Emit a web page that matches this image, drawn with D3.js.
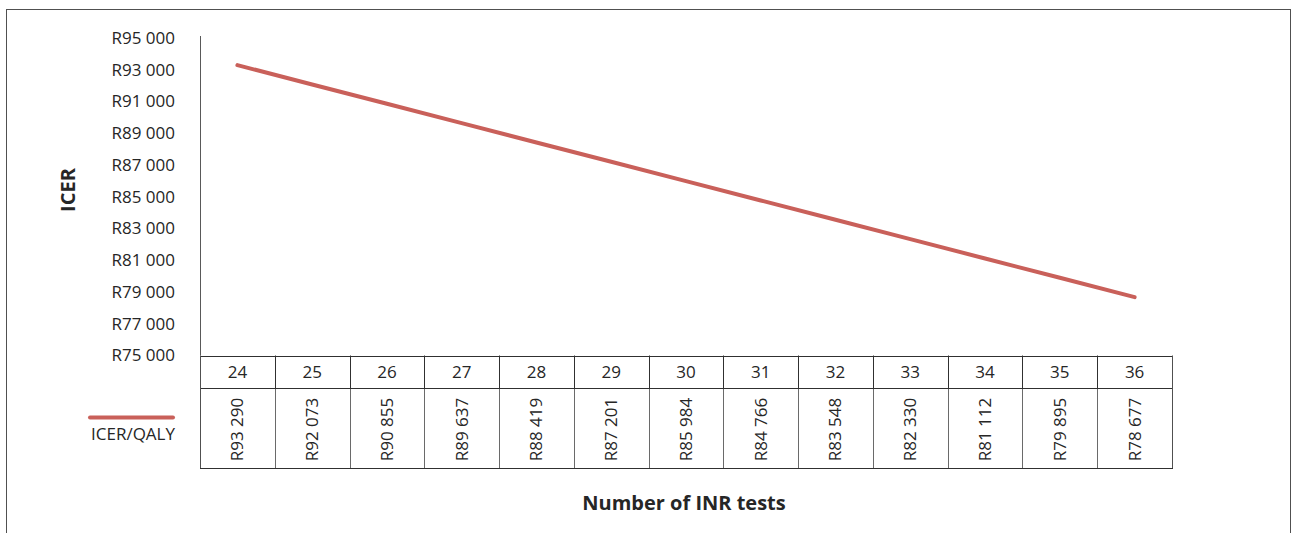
<!DOCTYPE html>
<html>
<head>
<meta charset="utf-8">
<script src="https://cdn.jsdelivr.net/npm/d3@7"></script>
<style>
  body { margin: 0; background: #fff; }
  svg { display: block; font-family: "Open Sans", "Noto Sans", sans-serif; }
</style>
</head>
<body>
<div id="chart"></div>
<script>
// data
var tests = [24, 25, 26, 27, 28, 29, 30, 31, 32, 33, 34, 35, 36];
var icerPerQaly = [93290, 92073, 90855, 89637, 88419, 87201, 85984, 84766, 83548, 82330, 81112, 79895, 78677];
var yTicks = [75000, 77000, 79000, 81000, 83000, 85000, 87000, 89000, 91000, 93000, 95000];
var seriesName = "ICER/QALY";
var xTitle = "Number of INR tests";
var yTitle = "ICER";

var W = 1292, H = 533;
var lineColor = "#c9605a";
var textColor = "#262626";

// plot area + data table geometry
var plotLeft = 200, plotRight = 1172, plotTop = 38, plotBottom = 355.5;
var headerBottom = 388, tableBottom = 468;

var svg = d3.select("#chart").append("svg")
    .attr("width", W)
    .attr("height", H);

// chart border (runs off the bottom of the picture)
svg.append("rect")
    .attr("x", 6.5).attr("y", 9.5)
    .attr("width", 1284).attr("height", 600)
    .attr("fill", "none")
    .attr("stroke", "#505050");

var x = d3.scaleBand()
    .domain(tests)
    .range([plotLeft, plotRight])
    .paddingInner(0).paddingOuter(0);
var cx = function(d) { return x(d) + x.bandwidth() / 2; };

var y = d3.scaleLinear()
    .domain([75000, 95000])
    .range([plotBottom, plotTop]);

var fmt = function(v) { return "R" + d3.format(",")(v).replace(/,/g, " "); };

// y axis
var yAxis = svg.append("g")
    .attr("transform", "translate(" + plotLeft + ",0)")
    .call(d3.axisLeft(y).tickValues(yTicks).tickFormat(fmt).tickSize(0).tickPadding(25));
yAxis.attr("font-family", null).attr("font-size", 17);
yAxis.select(".domain").attr("stroke", "#595959").attr("d", "M0.5," + (plotTop - 2) + "V" + plotBottom);
yAxis.selectAll("text")
    .attr("fill", textColor);

// y title
svg.append("text")
    .attr("transform", "translate(68,190) rotate(-90)")
    .attr("text-anchor", "middle")
    .attr("dy", "0.35em")
    .attr("font-size", 20)
    .attr("font-weight", "bold")
    .attr("fill", textColor)
    .text(yTitle);

// the line
var line = d3.line()
    .x(function(d, i) { return cx(tests[i]); })
    .y(function(d) { return y(d); });

svg.append("path")
    .datum(icerPerQaly)
    .attr("d", line)
    .attr("fill", "none")
    .attr("stroke", lineColor)
    .attr("stroke-width", 4)
    .attr("stroke-linecap", "round");

// data table
var table = svg.append("g");

// value row verticals (lighter)
table.selectAll("line.vv")
    .data(tests.slice(1))
    .enter().append("line")
    .attr("x1", function(d) { return Math.round(x(d)) + 0.5; })
    .attr("x2", function(d) { return Math.round(x(d)) + 0.5; })
    .attr("y1", headerBottom).attr("y2", tableBottom)
    .attr("stroke", "#6a6a6a");

// header row verticals
table.selectAll("line.hv")
    .data(tests.slice(1))
    .enter().append("line")
    .attr("x1", function(d) { return Math.round(x(d)) + 0.5; })
    .attr("x2", function(d) { return Math.round(x(d)) + 0.5; })
    .attr("y1", plotBottom).attr("y2", headerBottom)
    .attr("stroke", "#303030");

// horizontals and outer edges
[plotBottom, headerBottom, tableBottom].forEach(function(yy) {
    table.append("line")
        .attr("x1", plotLeft).attr("x2", plotRight + 1)
        .attr("y1", Math.round(yy) + 0.5).attr("y2", Math.round(yy) + 0.5)
        .attr("stroke", "#303030");
});
[plotLeft, plotRight].forEach(function(xx) {
    table.append("line")
        .attr("x1", xx + 0.5).attr("x2", xx + 0.5)
        .attr("y1", plotBottom).attr("y2", tableBottom)
        .attr("stroke", "#505050");
});

table.selectAll("text.h")
    .data(tests)
    .enter().append("text")
    .attr("x", cx)
    .attr("y", 372.5)
    .attr("dy", "0.35em")
    .attr("text-anchor", "middle")
    .attr("font-size", 17)
    .attr("fill", textColor)
    .text(function(d) { return d; });

table.selectAll("text.v")
    .data(icerPerQaly)
    .enter().append("text")
    .attr("transform", function(d, i) { return "translate(" + cx(tests[i]) + ",429.5) rotate(-90)"; })
    .attr("dy", "0.35em")
    .attr("text-anchor", "middle")
    .attr("font-size", 17)
    .attr("fill", textColor)
    .text(fmt);

// legend key in the table
svg.append("line")
    .attr("x1", 90).attr("x2", 173)
    .attr("y1", 417.5).attr("y2", 417.5)
    .attr("stroke", lineColor)
    .attr("stroke-width", 4)
    .attr("stroke-linecap", "round");

svg.append("text")
    .attr("x", 175)
    .attr("y", 434.5)
    .attr("dy", "0.35em")
    .attr("text-anchor", "end")
    .attr("font-size", 17)
    .attr("fill", textColor)
    .text(seriesName);

// x title
svg.append("text")
    .attr("x", 684)
    .attr("y", 502.5)
    .attr("dy", "0.35em")
    .attr("text-anchor", "middle")
    .attr("font-size", 20)
    .attr("font-weight", "bold")
    .attr("fill", textColor)
    .text(xTitle);
</script>
</body>
</html>
